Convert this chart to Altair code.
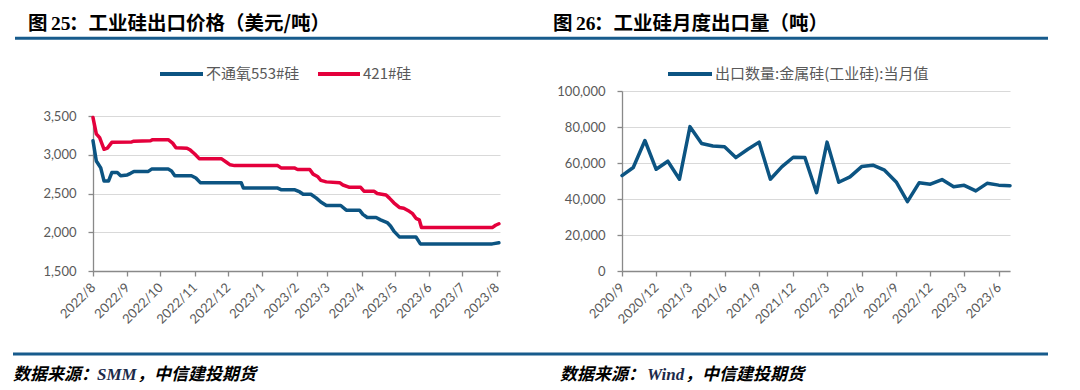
import altair as alt
import pandas as pd

# ---------------- data: Fig 25 export price (USD/t) ----------------
series_names = ["不通氧553#硅", "421#硅"]

dates_553 = ["2022-08-01", "2022-08-04", "2022-08-08", "2022-08-11", "2022-08-15", "2022-08-18",
             "2022-08-23", "2022-08-26", "2022-09-01", "2022-09-04", "2022-09-07", "2022-09-20",
             "2022-09-23", "2022-10-08", "2022-10-11", "2022-10-14", "2022-10-29", "2022-11-02",
             "2022-11-06", "2022-12-13", "2022-12-15", "2023-01-15", "2023-01-18", "2023-01-30",
             "2023-02-04", "2023-02-07", "2023-02-14", "2023-02-19", "2023-02-23", "2023-02-28",
             "2023-03-13", "2023-03-18", "2023-03-30", "2023-04-02", "2023-04-06", "2023-04-14",
             "2023-04-18", "2023-04-24", "2023-04-27", "2023-04-30", "2023-05-05", "2023-05-20",
             "2023-05-24", "2023-07-28", "2023-08-03"]
price_553 = [3180, 2920, 2830, 2660, 2660, 2770,
             2770, 2730, 2740, 2760, 2785, 2785,
             2815, 2815, 2790, 2730, 2730, 2700,
             2640, 2640, 2570, 2570, 2550, 2550,
             2520, 2490, 2490, 2440, 2390, 2345,
             2345, 2285, 2285, 2230, 2190, 2190,
             2160, 2125, 2080, 2015, 1940, 1940,
             1850, 1850, 1865]

dates_421 = ["2022-08-01", "2022-08-04", "2022-08-07", "2022-08-11", "2022-08-14", "2022-08-18",
             "2022-09-05", "2022-09-07", "2022-09-22", "2022-09-24", "2022-10-08", "2022-10-12",
             "2022-10-15", "2022-10-25", "2022-10-28", "2022-11-01", "2022-11-05", "2022-11-25",
             "2022-11-30", "2022-12-03", "2022-12-07", "2023-01-15", "2023-01-18", "2023-01-30",
             "2023-02-02", "2023-02-13", "2023-02-16", "2023-02-20", "2023-02-23", "2023-02-28",
             "2023-03-12", "2023-03-15", "2023-03-21", "2023-03-31", "2023-04-03", "2023-04-12",
             "2023-04-15", "2023-04-23", "2023-04-26", "2023-04-30", "2023-05-05", "2023-05-09",
             "2023-05-14", "2023-05-17", "2023-05-20", "2023-05-23", "2023-05-25", "2023-07-28",
             "2023-07-31", "2023-08-03"]
price_421 = [3480, 3270, 3220, 3070, 3085, 3160,
             3165, 3175, 3180, 3195, 3195, 3150,
             3090, 3085, 3060, 3010, 2950, 2950,
             2900, 2870, 2860, 2860, 2830, 2830,
             2810, 2810, 2750, 2720, 2670, 2650,
             2640, 2610, 2580, 2580, 2530, 2530,
             2500, 2480, 2440, 2380, 2320, 2310,
             2270, 2240, 2180, 2160, 2060, 2060,
             2090, 2110]

price_y_ticks = [1500, 2000, 2500, 3000, 3500]
price_x_ticks = [(2022, m) for m in range(8, 13)] + [(2023, m) for m in range(1, 9)]

# ---------------- data: Fig 26 monthly export volume (t) ----------------
export_name = "出口数量:金属硅(工业硅):当月值"
export_months = ["2020-09", "2020-10", "2020-11", "2020-12",
                 "2021-01", "2021-02", "2021-03", "2021-04", "2021-05", "2021-06",
                 "2021-07", "2021-08", "2021-09", "2021-10", "2021-11", "2021-12",
                 "2022-01", "2022-02", "2022-03", "2022-04", "2022-05", "2022-06",
                 "2022-07", "2022-08", "2022-09", "2022-10", "2022-11", "2022-12",
                 "2023-01", "2023-02", "2023-03", "2023-04", "2023-05", "2023-06", "2023-07"]
export_volume = [53000, 57500, 72500, 56500,
                 61000, 51000, 80200, 70800, 69400, 69000,
                 63000, 67500, 71600, 51000, 58000, 63200,
                 63000, 43500, 71600, 49300, 52300, 58000,
                 58800, 56000, 49500, 38500, 49000, 48200,
                 50800, 46800, 47600, 44500, 48700, 47700, 47400]

export_y_ticks = [0, 20000, 40000, 60000, 80000, 100000]
export_x_ticks = [(2020, 9), (2020, 12), (2021, 3), (2021, 6), (2021, 9), (2021, 12),
                  (2022, 3), (2022, 6), (2022, 9), (2022, 12), (2023, 3), (2023, 6)]

# ---------------- texts ----------------
left_title = ["图", "25", "：工业硅出口价格（美元/吨）"]
right_title = ["图", "26", "：工业硅月度出口量（吨）"]
left_source = ["数据来源：", "SMM", "，中信建投期货"]
right_source = ["数据来源：", "Wind", "，中信建投期货"]

# ---------------- styling ----------------
BLUE = "#0c5482"
RED = "#e4003c"
RULE = "#175b8c"
CJK = "Noto Sans CJK SC"
SERIF = "Liberation Serif"
NUM = "Lato"
TXT = "#595959"

W1, W2, H = 407, 388, 180
TOP_IN = 25  # left price panel starts 25px below the right panel's top

one = pd.DataFrame({"k": [0]})


def dt(ym):
    return alt.DateTime(year=ym[0], month=ym[1], date=1)


def text(s, x, y, size, font=CJK, weight="normal", style="normal", color="#000000"):
    return alt.Chart(one).mark_text(
        text=s, align="left", baseline="middle", font=font, fontSize=size,
        fontWeight=weight, fontStyle=style, color=color
    ).encode(x=alt.value(x), y=alt.value(y))


def hrule(x1, x2, y, color, width):
    return alt.Chart(one).mark_rule(color=color, strokeWidth=width).encode(
        x=alt.value(x1), x2=alt.value(x2), y=alt.value(y))


def x_axis(vals):
    return alt.Axis(values=[dt(v) for v in vals], format="%Y/%-m", labelAngle=-45,
                    labelAlign="right", labelBaseline="middle", labelPadding=9,
                    grid=False, tickSize=5, labelOverlap=False, labelBound=False,
                    labelFlush=False, labelFont=NUM, labelFontSize=13, labelColor=TXT)


def y_axis(vals):
    return alt.Axis(values=vals, format=",.0f", grid=True, tickSize=5, labelPadding=12,
                    labelOverlap=False, labelFont=NUM, labelFontSize=13, labelColor=TXT)


# ---------------- left panel ----------------
df_price = pd.DataFrame({
    "date": pd.to_datetime(dates_553 + dates_421),
    "price": price_553 + price_421,
    "series": [series_names[0]] * len(dates_553) + [series_names[1]] * len(dates_421),
})

price_lines = alt.Chart(df_price).mark_line(
    strokeWidth=3.5, strokeJoin="round", strokeCap="round"
).encode(
    x=alt.X("date:T", title=None,
            scale=alt.Scale(domain=[alt.DateTime(year=2022, month=8, date=1),
                                    alt.DateTime(year=2023, month=8, date=4)]),
            axis=x_axis(price_x_ticks)),
    y=alt.Y("price:Q", title=None,
            scale=alt.Scale(domain=[1500, 3500], range=[H, TOP_IN], nice=False, zero=False),
            axis=y_axis(price_y_ticks)),
    color=alt.Color("series:N", scale=alt.Scale(domain=series_names, range=[BLUE, RED]),
                    legend=None),
)

# left panel origin is at absolute (93, 91)
canvas = alt.Chart(one).mark_rect(opacity=0).encode(
    x=alt.value(-93), x2=alt.value(987), y=alt.value(-91), y2=alt.value(299))

left = alt.layer(
    canvas,
    hrule(-78, 447, -52.7, RULE, 3),
    hrule(-80, 447, 263, RULE, 3),
    text(left_title[0], -65, -67, 19.5, weight="bold"),
    text(left_title[1], -42, -67, 19.5, font=SERIF, weight="bold"),
    text(left_title[2], -24, -67, 19.5, weight="bold"),
    hrule(67, 110, -17, BLUE, 4),
    text(series_names[0], 113, -17, 15, color=TXT),
    hrule(225, 267, -17, RED, 4),
    text(series_names[1], 270, -17, 15, color=TXT),
    price_lines,
    text(left_source[0], -80, 284, 17, weight="bold", style="italic"),
    text(left_source[1], 4, 284, 17, font=SERIF, weight="bold", style="italic", color="#1c2a4a"),
    text(left_source[2], 44, 284, 17, weight="bold", style="italic"),
).properties(width=W1, height=H)

# ---------------- right panel ----------------
df_export = pd.DataFrame({"month": pd.to_datetime(export_months), "volume": export_volume})

export_line = alt.Chart(df_export).mark_line(
    strokeWidth=3.5, strokeJoin="round", strokeCap="round", color=BLUE
).encode(
    x=alt.X("month:T", title=None,
            scale=alt.Scale(domain=[alt.DateTime(year=2020, month=9, date=1),
                                    alt.DateTime(year=2023, month=7, date=1)]),
            axis=x_axis(export_x_ticks)),
    y=alt.Y("volume:Q", title=None,
            scale=alt.Scale(domain=[0, 100000], nice=False),
            axis=y_axis(export_y_ticks)),
)

# right panel origin is at absolute (622, 91)
right = alt.layer(
    hrule(-82, 426, -52.7, RULE, 3),
    hrule(-82, 426, 263, RULE, 3),
    text(right_title[0], -69, -67, 19.5, weight="bold"),
    text(right_title[1], -46, -67, 19.5, font=SERIF, weight="bold"),
    text(right_title[2], -28, -67, 19.5, weight="bold"),
    hrule(46, 90, -17, BLUE, 4),
    text(export_name, 93, -17, 15, color=TXT),
    export_line,
    text(right_source[0], -62, 284, 17, weight="bold", style="italic"),
    text(right_source[1], 25, 284, 17, font=SERIF, weight="bold", style="italic", color="#1c2a4a"),
    text(right_source[2], 63, 284, 17, weight="bold", style="italic"),
).properties(width=W2, height=H)

chart = alt.hconcat(left, right, spacing=122, bounds="flush").properties(
    padding=0, background="white"
).configure_view(stroke=None).configure_axis(
    labelFont=NUM, labelFontSize=13, labelColor=TXT,
    domainColor="#898989", domainWidth=1.3, tickColor="#898989", tickWidth=1.3,
    gridColor="#d9d9d9", gridWidth=1,
)

chart.save("out.html", embed_options={"renderer": "svg", "actions": False})
